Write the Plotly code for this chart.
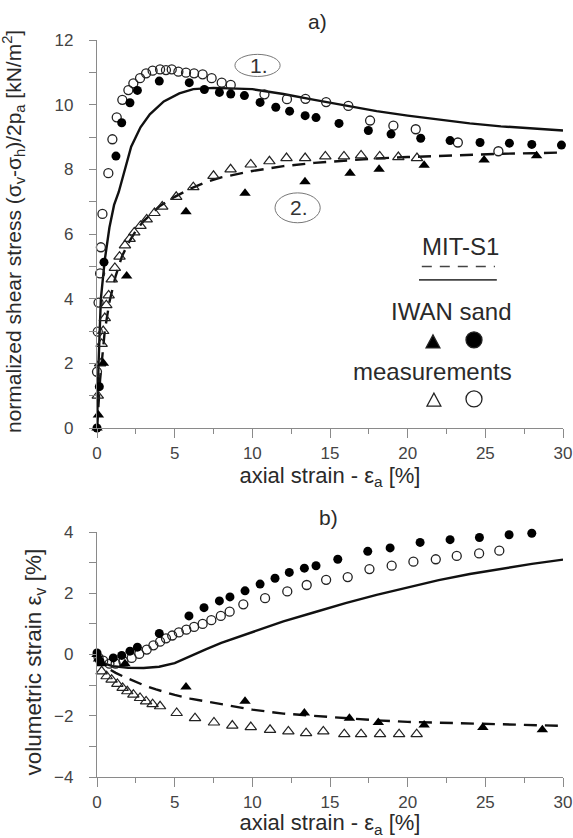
import plotly.graph_objects as go
from plotly.subplots import make_subplots

# ---------------- a) normalized shear stress ----------------
mit_solid_x = [0, 0.1, 0.25, 0.5, 0.8, 1.1, 1.4, 1.8, 2.2, 2.8, 3.4, 4.3, 5.3, 6.2, 7.5, 10, 12, 14, 16, 18, 20, 22, 24, 26, 28, 30]
mit_solid_y = [0, 2.0, 4.0, 5.2, 6.2, 6.9, 7.3, 8.0, 8.7, 9.3, 9.7, 10.1, 10.35, 10.48, 10.52, 10.48, 10.33, 10.15, 9.98, 9.8, 9.66, 9.53, 9.42, 9.33, 9.26, 9.2]

mit_dash_x = [0, 0.2, 0.5, 0.8, 1.2, 1.6, 2, 2.5, 3, 4, 5, 6, 7, 8, 10, 12, 14, 16, 18, 20, 22, 24, 26, 28, 30]
mit_dash_y = [0, 1.5, 3.0, 3.9, 4.7, 5.3, 5.7, 6.1, 6.4, 6.85, 7.15, 7.4, 7.6, 7.75, 7.95, 8.1, 8.2, 8.28, 8.34, 8.38, 8.42, 8.45, 8.48, 8.5, 8.52]

iwan_circ_x = [0.0, 0.15, 0.45, 1.22, 1.59, 2.12, 2.60, 4.01, 5.94, 6.91, 7.88, 8.61, 9.49, 10.50, 11.51, 12.40, 13.40, 14.10, 15.58, 17.47, 18.93, 20.84, 22.73, 24.66, 26.55, 27.99, 29.9]
iwan_circ_y = [0.0, 1.28, 5.13, 8.41, 9.44, 10.06, 10.44, 10.73, 10.68, 10.47, 10.38, 10.33, 10.28, 10.07, 9.92, 9.80, 9.66, 9.60, 9.42, 9.20, 9.09, 8.96, 8.89, 8.83, 8.81, 8.77, 8.75]

meas_circ_x = [0.0, 0.05, 0.1, 0.2, 0.25, 0.35, 0.73, 0.99, 1.27, 1.63, 2.02, 2.34, 2.77, 3.16, 3.58, 4.06, 4.44, 4.81, 5.24, 5.73, 6.25, 6.80, 7.38, 8.03, 8.61, 10.78, 12.23, 13.42, 14.75, 16.18, 17.58, 19.08, 20.52, 23.23, 25.84]
meas_circ_y = [1.74, 2.98, 3.88, 4.78, 5.59, 6.62, 7.88, 8.93, 9.61, 10.15, 10.45, 10.66, 10.82, 10.97, 11.05, 11.09, 11.07, 11.09, 11.02, 10.99, 10.97, 10.94, 10.82, 10.68, 10.61, 10.32, 10.17, 10.18, 10.08, 9.96, 9.51, 9.35, 9.24, 8.83, 8.56]

iwan_tri_x = [0.0, 0.09, 0.41, 1.91, 5.73, 9.53, 13.39, 16.29, 18.16, 21.06, 24.92, 28.3]
iwan_tri_y = [0.0, 0.4, 2.0, 4.7, 6.69, 7.26, 7.62, 7.88, 8.0, 8.13, 8.29, 8.42]

meas_tri_x = [0.05, 0.2, 0.3, 0.4, 0.5, 0.6, 0.75, 0.95, 1.15, 1.45, 1.8, 2.1, 2.4, 2.8, 3.2, 3.7, 4.2, 5.1, 6.2, 7.5, 8.6, 9.9, 11.1, 12.2, 13.4, 14.7, 15.9, 17.0, 18.2, 19.4, 20.6]
meas_tri_y = [1.0, 2.0, 2.6, 3.0, 3.4, 3.8, 4.1, 4.6, 4.95, 5.3, 5.65, 5.85, 6.05, 6.25, 6.45, 6.65, 6.85, 7.15, 7.45, 7.8, 8.0, 8.15, 8.25, 8.35, 8.35, 8.4, 8.4, 8.43, 8.4, 8.38, 8.35]

# ---------------- b) volumetric strain ----------------
vmit_solid_x = [0, 0.5, 1, 2, 3, 4, 5, 6, 7, 8, 10, 12, 14, 16, 18, 20, 22, 24, 26, 28, 30]
vmit_solid_y = [0, -0.3, -0.38, -0.43, -0.44, -0.4, -0.28, -0.05, 0.17, 0.38, 0.74, 1.08, 1.38, 1.68, 1.95, 2.2, 2.43, 2.63, 2.8, 2.96, 3.1]

vmit_dash_x = [0, 0.3, 0.7, 1.2, 1.7, 2.3, 3, 3.8, 5, 6, 7, 8.5, 10, 12, 14, 16, 18, 20, 22, 24, 26, 28, 30]
vmit_dash_y = [0, -0.25, -0.45, -0.6, -0.72, -0.86, -1.0, -1.14, -1.32, -1.44, -1.53, -1.68, -1.8, -1.93, -2.01, -2.08, -2.15, -2.2, -2.23, -2.26, -2.29, -2.31, -2.33]

viwan_circ_x = [0.0, 0.19, 1.05, 1.59, 2.12, 2.60, 4.01, 5.92, 6.89, 7.88, 8.56, 9.53, 10.50, 11.46, 12.38, 13.35, 14.10, 15.50, 17.43, 18.87, 20.80, 22.73, 24.62, 26.53, 27.99]
viwan_circ_y = [0.05, -0.22, -0.11, -0.03, 0.11, 0.24, 0.69, 1.26, 1.53, 1.75, 1.88, 2.08, 2.30, 2.49, 2.68, 2.82, 2.90, 3.11, 3.37, 3.48, 3.66, 3.75, 3.82, 3.91, 3.96]

vmeas_circ_x = [0.1, 0.4, 0.8, 1.2, 1.7, 2.23, 2.72, 3.2, 3.63, 4.06, 4.44, 4.84, 5.27, 5.75, 6.25, 6.8, 7.36, 7.97, 8.54, 9.42, 10.82, 12.25, 13.5, 14.75, 16.14, 17.54, 18.97, 20.37, 21.81, 23.16, 24.6, 25.9]
vmeas_circ_y = [-0.1, -0.2, -0.3, -0.3, -0.22, -0.11, 0.02, 0.16, 0.3, 0.42, 0.53, 0.62, 0.72, 0.81, 0.9, 1.0, 1.12, 1.26, 1.4, 1.64, 1.84, 2.06, 2.27, 2.44, 2.53, 2.79, 2.9, 3.03, 3.11, 3.22, 3.3, 3.39]

viwan_tri_x = [0.0, 0.1, 0.3, 1.8, 5.73, 9.53, 13.35, 16.25, 18.11, 21.06, 24.84, 28.67]
viwan_tri_y = [0.0, -0.15, -0.3, -0.3, -1.06, -1.53, -1.91, -2.08, -2.22, -2.30, -2.38, -2.46]

vmeas_tri_x = [0.3, 0.62, 0.94, 1.31, 1.65, 1.95, 2.34, 2.77, 3.16, 3.58, 4.06, 5.13, 6.31, 7.53, 8.71, 9.9, 11.14, 12.32, 13.46, 14.57, 15.92, 17.0, 18.22, 19.45, 20.58]
vmeas_tri_y = [-0.55, -0.71, -0.82, -0.96, -1.09, -1.2, -1.31, -1.42, -1.53, -1.62, -1.69, -1.91, -2.08, -2.22, -2.32, -2.37, -2.46, -2.51, -2.57, -2.51, -2.6, -2.6, -2.6, -2.6, -2.6]

x_ticks = [0, 5, 10, 15, 20, 25, 30]
y1_ticks = [0, 2, 4, 6, 8, 10, 12]
y2_ticks = [-4, -2, 0, 2, 4]

FONT = "Liberation Sans, Arial, sans-serif"
TXT = "#2a2a2a"
TICK = "#444444"
AX = "#8a8a8a"

fig = make_subplots(rows=2, cols=1, vertical_spacing=0.0)


def add_series(row, sx, sy, dx, dy, ic_x, ic_y, mc_x, mc_y, it_x, it_y, mt_x, mt_y):
    fig.add_trace(go.Scatter(x=sx, y=sy, mode="lines", line=dict(color="#111", width=2.4),
                             cliponaxis=False, showlegend=False), row=row, col=1)
    fig.add_trace(go.Scatter(x=dx, y=dy, mode="lines", line=dict(color="#111", width=2.4, dash="13px,8px"),
                             cliponaxis=False, showlegend=False), row=row, col=1)
    fig.add_trace(go.Scatter(x=mt_x, y=mt_y, mode="markers",
                             marker=dict(symbol="triangle-up-open", size=10, color="#222", line=dict(width=1.2)),
                             cliponaxis=False, showlegend=False), row=row, col=1)
    fig.add_trace(go.Scatter(x=mc_x, y=mc_y, mode="markers",
                             marker=dict(symbol="circle-open", size=9, color="#222", line=dict(width=1.3)),
                             cliponaxis=False, showlegend=False), row=row, col=1)
    fig.add_trace(go.Scatter(x=it_x, y=it_y, mode="markers",
                             marker=dict(symbol="triangle-up", size=10, color="#000"),
                             cliponaxis=False, showlegend=False), row=row, col=1)
    fig.add_trace(go.Scatter(x=ic_x, y=ic_y, mode="markers",
                             marker=dict(symbol="circle", size=9, color="#000"),
                             cliponaxis=False, showlegend=False), row=row, col=1)


add_series(1, mit_solid_x, mit_solid_y, mit_dash_x, mit_dash_y, iwan_circ_x, iwan_circ_y,
           meas_circ_x, meas_circ_y, iwan_tri_x, iwan_tri_y, meas_tri_x, meas_tri_y)
add_series(2, vmit_solid_x, vmit_solid_y, vmit_dash_x, vmit_dash_y, viwan_circ_x, viwan_circ_y,
           vmeas_circ_x, vmeas_circ_y, viwan_tri_x, viwan_tri_y, vmeas_tri_x, vmeas_tri_y)

xcommon = dict(range=[0, 30], tickvals=x_ticks, ticks="outside", ticklen=9, tickwidth=1, tickcolor=AX,
               showline=True, linecolor=AX, linewidth=1.2, showgrid=False, zeroline=False, automargin=False,
               tickfont=dict(family=FONT, size=17, color=TICK),
               minor=dict(dtick=2.5, tick0=0, ticks="outside", ticklen=5, tickcolor=AX, showgrid=False))
ycommon = dict(ticks="outside", ticklen=7, tickwidth=1, tickcolor=AX, ticklabelstandoff=12,
               showline=True, linecolor=AX, linewidth=1.2, showgrid=False, zeroline=False, automargin=False,
               tickfont=dict(family=FONT, size=17, color=TICK))

fig.update_xaxes(**xcommon, domain=[0, 1])
fig.update_xaxes(title=dict(text="axial strain - ε<sub>a</sub> [%]", font=dict(family=FONT, size=22, color=TXT),
                            standoff=4), row=1, col=1)
fig.update_xaxes(title=dict(text="axial strain - ε<sub>a</sub> [%]", font=dict(family=FONT, size=22, color=TXT),
                            standoff=5), row=2, col=1)
fig.update_yaxes(**ycommon, range=[0, 12], tickvals=y1_ticks, domain=[0.4735, 1.0],
                 minor=dict(dtick=1, tick0=0, ticks="outside", ticklen=7, tickcolor=AX, showgrid=False),
                 row=1, col=1)
fig.update_yaxes(**ycommon, range=[-4, 4], tickvals=y2_ticks, domain=[0.0, 0.3324],
                 minor=dict(dtick=1, tick0=0, ticks="outside", ticklen=7, tickcolor=AX, showgrid=False),
                 row=2, col=1)

ann = []
shapes = []
C = dict(xanchor="center", yanchor="middle", showarrow=False)
# y-axis titles (rotated)
ann.append(dict(text="normalized shear stress (σ<sub>v</sub>-σ<sub>h</sub>)/2p<sub>a</sub> [kN/m<sup>2</sup>]",
                xref="paper", yref="paper", x=-0.178, y=0.7395, textangle=-90,
                font=dict(family=FONT, size=21, color=TXT), **C))
ann.append(dict(text="volumetric strain ε<sub>v</sub> [%]",
                xref="paper", yref="paper", x=-0.132, y=0.156, textangle=-90,
                font=dict(family=FONT, size=22.5, color=TXT), **C))
# panel labels
ann.append(dict(text="a)", xref="x domain", yref="y domain", x=0.474, y=1.048,
                font=dict(family=FONT, size=21, color=TXT), **C))
ann.append(dict(text="b)", xref="x2 domain", yref="y2 domain", x=0.496, y=1.061,
                font=dict(family=FONT, size=21, color=TXT), **C))
# circled curve labels
for txt, (x0, x1, y0, y1) in [("1.", (0.296, 0.393, 0.906, 0.963)), ("2.", (0.382, 0.479, 0.529, 0.606))]:
    shapes.append(dict(type="circle", xref="x domain", yref="y domain", x0=x0, x1=x1, y0=y0, y1=y1,
                       line=dict(color="#777", width=1), fillcolor="rgba(0,0,0,0)"))
    ann.append(dict(text=txt, xref="x domain", yref="y domain", x=(x0 + x1) / 2 + 0.003, y=(y0 + y1) / 2,
                    font=dict(family=FONT, size=21, color="#333"), **C))
# legend block (custom)
ann.append(dict(text="MIT-S1", xref="x domain", yref="y domain", x=0.779, y=0.469,
                font=dict(family=FONT, size=24, color=TXT), **C))
shapes.append(dict(type="line", xref="x domain", yref="y domain", x0=0.697, x1=0.854, y0=0.416, y1=0.416,
                   line=dict(color="#444", width=1.5, dash="10px,8px")))
shapes.append(dict(type="line", xref="x domain", yref="y domain", x0=0.691, x1=0.858, y0=0.382, y1=0.382,
                   line=dict(color="#444", width=1.8)))
ann.append(dict(text="IWAN sand", xref="x domain", yref="y domain", x=0.760, y=0.300,
                font=dict(family=FONT, size=24, color=TXT), **C))
ann.append(dict(text="measurements", xref="x domain", yref="y domain", x=0.721, y=0.145,
                font=dict(family=FONT, size=24, color=TXT), **C))
tri_path = "M -7,-6 L 7,-6 L 0,7 Z"
for (xa, ya, filled) in [(0.721, 0.222, True), (0.723, 0.072, False)]:
    shapes.append(dict(type="path", xref="x domain", yref="y domain", xsizemode="pixel", ysizemode="pixel",
                       xanchor=xa, yanchor=ya, path=tri_path,
                       fillcolor="#000" if filled else "rgba(0,0,0,0)", line=dict(color="#222", width=1.2)))
for (xa, ya, filled) in [(0.809, 0.227, True), (0.809, 0.075, False)]:
    shapes.append(dict(type="circle", xref="x domain", yref="y domain", xsizemode="pixel", ysizemode="pixel",
                       xanchor=xa, yanchor=ya, x0=-8, x1=8, y0=-8, y1=8,
                       fillcolor="#000" if filled else "rgba(0,0,0,0)", line=dict(color="#222", width=1.3)))

fig.update_layout(width=573, height=838, margin=dict(l=97, r=10, t=40, b=61),
                  plot_bgcolor="white", paper_bgcolor="white", showlegend=False,
                  annotations=ann, shapes=shapes, font=dict(family=FONT))

# remove the default page margin so the figure fills the window exactly; hide the mode bar
fig.write_html("out.html", config={"displayModeBar": False},
               post_script="document.body.style.margin='0';document.body.style.overflow='hidden';")
